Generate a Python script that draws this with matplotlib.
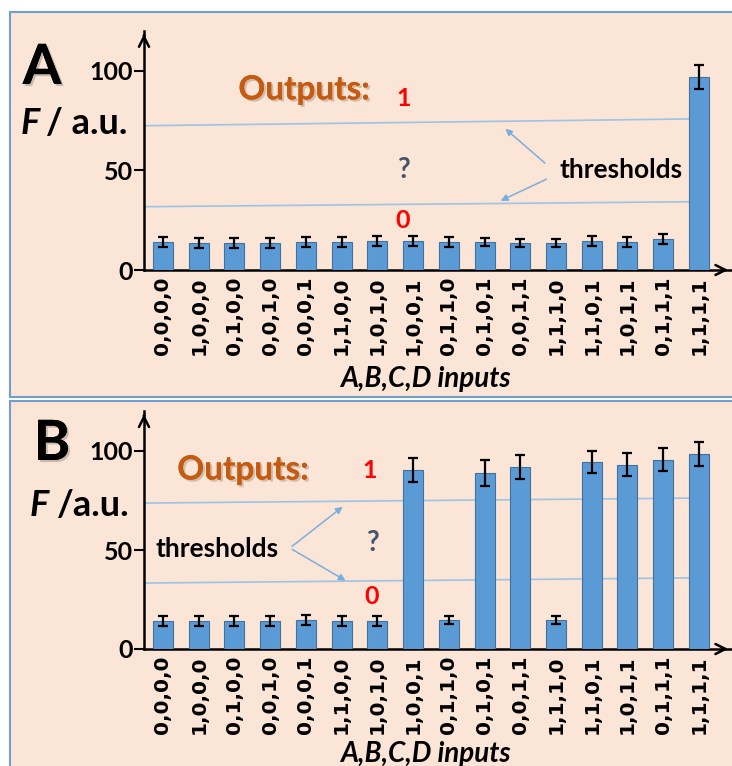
import matplotlib.pyplot as plt
import matplotlib.patheffects as pe
from matplotlib.patches import Rectangle

plt.rcParams['font.family'] = ['Lato', 'DejaVu Sans']

# input combinations A,B,C,D
inputs = ["0,0,0,0", "1,0,0,0", "0,1,0,0", "0,0,1,0", "0,0,0,1", "1,1,0,0",
          "1,0,1,0", "1,0,0,1", "0,1,1,0", "0,1,0,1", "0,0,1,1", "1,1,1,0",
          "1,1,0,1", "1,0,1,1", "0,1,1,1", "1,1,1,1"]

# panel A (AND-like)
a_vals = [14, 13.5, 13.5, 13.5, 14, 14, 14.5, 14.5, 14, 14, 13.5, 13.5, 14.5, 14, 15.5, 97]
a_err = [2.5, 2.5, 2.5, 2.5, 2.5, 2.5, 2.5, 2.5, 2.5, 2.0, 2.0, 2.0, 2.5, 2.5, 2.5, 6]
a_thr_hi = [72.5, 75.9]
a_thr_lo = [31.8, 34.3]

# panel B
b_vals = [14, 14, 14, 14, 14.5, 14, 14, 90.5, 14.5, 89, 92, 14.5, 94.5, 93, 95.5, 98.5]
b_err = [2.5, 2.5, 2.5, 2.5, 2.5, 2.5, 2.5, 6, 2.0, 6.5, 6, 2.0, 5.7, 5.8, 5.8, 6]
b_thr_hi = [73.7, 76.2]
b_thr_lo = [33.3, 35.9]

W, H = 732, 766
fig = plt.figure(figsize=(W / 100, H / 100), dpi=100)

bg = "#FBE5D6"
edge = "#6F9FCF"
bar_c = "#5B9BD5"
bar_e = "#41719C"
orange = "#C55A11"
slate = "#44546A"
line_c = "#9DC3E6"
arrow_c = "#7AAEDE"

fig.patches.append(Rectangle((10 / W, 1 - 397 / H), 1, 385 / H, transform=fig.transFigure,
                             facecolor=bg, edgecolor=edge, lw=1.5, zorder=-5))
fig.patches.append(Rectangle((10 / W, -0.05), 1, 1 - 401 / H + 0.05, transform=fig.transFigure,
                             facecolor=bg, edgecolor=edge, lw=1.5, zorder=-5))


def panel(zero_px, scale, vals, errs, thr_hi, thr_lo, letter, letter_xy, ylab, ylab_txt,
          out_xy, one_xy, q_xy, zero_xy, thr_xy, arrows, thr_ha, xlab_y):
    x0, step = 163, 35.73
    left = (144 - x0) / step
    right = (731 - x0) / step
    ymax = 120
    ax = fig.add_axes([144 / W, 1 - zero_px / H, (731 - 144) / W, ymax * scale / H])
    ax.set_facecolor("none")
    ax.set_xlim(left, right)
    ax.set_ylim(0, ymax)
    xs = list(range(len(vals)))
    ax.bar(xs, vals, width=0.56, color=bar_c, edgecolor=bar_e, lw=0.8, zorder=3)
    ax.errorbar(xs, vals, yerr=errs, fmt="none", ecolor="black", elinewidth=1.6,
                capsize=3.8, capthick=1.6, zorder=4)
    ax.plot([left, 14.72], thr_hi, color=line_c, lw=1.2, zorder=2)
    ax.plot([left, 14.72], thr_lo, color=line_c, lw=1.2, zorder=2)

    for s in ["top", "right"]:
        ax.spines[s].set_visible(False)
    for s in ["left", "bottom"]:
        ax.spines[s].set_linewidth(1.8)
    ax.annotate("", xy=(1, 0), xytext=(0.98, 0), xycoords="axes fraction",
                arrowprops=dict(arrowstyle="->", lw=1.8, mutation_scale=18))
    ax.annotate("", xy=(0, 1.0), xytext=(0, 0.97), xycoords="axes fraction",
                arrowprops=dict(arrowstyle="->", lw=1.8, mutation_scale=18))

    ax.set_yticks([0, 50, 100])
    ax.set_yticklabels(["0", "50", "100"], fontsize=18, fontweight="bold")
    ax.tick_params(axis="y", length=7, width=1.5, pad=1)
    ax.set_xticks(xs)
    ax.set_xticklabels(inputs, rotation=90, fontsize=14.5, fontweight="bold",
                       family="DejaVu Sans")
    ax.tick_params(axis="x", length=0, pad=5)

    sh = [pe.withSimplePatchShadow(offset=(1.5, -1.5), alpha=0.2), pe.Normal()]
    fig.text(letter_xy[0] / W, 1 - letter_xy[1] / H, letter, fontsize=40, fontweight="bold",
             ha="center", va="center", path_effects=sh)
    fig.text(ylab[0] / W, 1 - ylab[2] / H, "F", fontsize=26, fontweight="bold",
             fontstyle="italic", ha="left", va="center")
    fig.text(ylab[1] / W, 1 - ylab[2] / H, ylab_txt, fontsize=26,
             fontweight="bold", ha="left", va="center")
    fig.text(425 / W, 1 - xlab_y / H, "A,B,C,D inputs", fontsize=20, fontweight="bold",
             fontstyle="italic", ha="center", va="center")

    ax.text(out_xy[0], out_xy[1], "Outputs:", fontsize=24, fontweight="bold", color=orange,
            ha="center", va="center", path_effects=sh, zorder=5)
    ax.text(one_xy[0], one_xy[1], "1", fontsize=18, fontweight="bold", color="red",
            ha="center", va="center", zorder=5)
    ax.text(q_xy[0], q_xy[1], "?", fontsize=20, fontweight="bold", color=slate,
            ha="center", va="center", zorder=5)
    ax.text(zero_xy[0], zero_xy[1], "0", fontsize=18, fontweight="bold", color="red",
            ha="center", va="center", zorder=5)
    ax.text(thr_xy[0], thr_xy[1], "thresholds", fontsize=19, fontweight="bold",
            color="black", ha=thr_ha, va="center", zorder=5)
    for (sx, sy), (tx, ty) in arrows:
        ax.annotate("", xy=(tx, ty), xytext=(sx, sy),
                    arrowprops=dict(arrowstyle="-|>", color=arrow_c, lw=1.1, mutation_scale=10),
                    zorder=5)
    return ax


panel(270, 1.99, a_vals, a_err, a_thr_hi, a_thr_lo, "A", (42, 68), (21, 46, 123), "/ a.u.",
      (3.95, 90.5), (6.74, 86.4), (6.72, 50.3), (6.72, 25.1), (12.82, 50.3),
      [((10.75, 52.8), (9.52, 71.9)), ((10.8, 46.2), (9.38, 34.2))], "center", 379)

panel(649, 1.98, b_vals, b_err, b_thr_hi, b_thr_lo, "B", (52, 444), (30, 57, 505), "/a.u.",
      (2.24, 90.4), (5.79, 90.4), (5.85, 53.5), (5.85, 26.3), (-0.22, 50.5),
      [((3.55, 51), (5.09, 72.7)), ((3.55, 51), (5.18, 33.8))], "left", 754)

fig.savefig("out.png", dpi=100)
